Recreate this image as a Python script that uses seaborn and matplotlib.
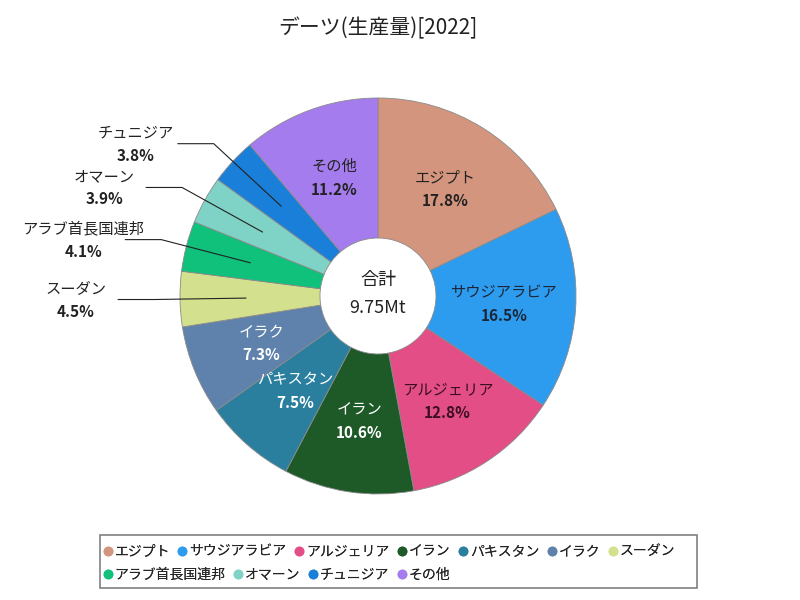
import numpy as np
import matplotlib
matplotlib.use("Agg")
import matplotlib.pyplot as plt
import seaborn as sns
from matplotlib.lines import Line2D
from matplotlib.patches import Rectangle

# データ
countries = ["エジプト", "サウジアラビア", "アルジェリア", "イラン", "パキスタン", "イラク",
             "スーダン", "アラブ首長国連邦", "オマーン", "チュニジア", "その他"]
shares = [17.8, 16.5, 12.8, 10.6, 7.5, 7.3, 4.5, 4.1, 3.9, 3.8, 11.2]
colors = ["#D4957F", "#2D9CEE", "#E24E85", "#1E5A28", "#2A7F9E", "#5F82AD",
          "#D3E08E", "#0FC17B", "#7FD3C6", "#1A7FD8", "#A57CEE"]
text_colors = ["#222222", "#1b2738", "#3a1020", "white", "white", "white",
               "#222222", "#222222", "#222222", "#222222", "#222222"]
outside = [False, False, False, False, False, False, True, True, True, True, False]
total_label = "9.75Mt"
title = "デーツ(生産量)[2022]"

sns.set_theme(style="white")
plt.rcParams["font.family"] = ["Noto Sans CJK JP", "DejaVu Sans"]

fig = plt.figure(figsize=(8, 6), dpi=100)
# 円の中心 (378, 296) px, 半径 ~198 px
ax = fig.add_axes([(378 - 200) / 800, 1 - (296 + 200) / 600, 400 / 800, 400 / 600])

palette = sns.color_palette(colors)
wedges, _ = ax.pie(shares, colors=palette, startangle=90, counterclock=False,
                   radius=0.99, wedgeprops=dict(width=0.99 - 0.29, edgecolor="#8a8a8a",
                                                linewidth=0.6))
ax.set_xlim(-1, 1)
ax.set_ylim(-1, 1)
ax.set_aspect("equal")
ax.axis("off")

for w, name, val, tc, out in zip(wedges, countries, shares, text_colors, outside):
    mid = np.deg2rad((w.theta1 + w.theta2) / 2)
    c, s = np.cos(mid), np.sin(mid)
    if not out:
        r = 0.63
        ax.text(r * c, r * s + 0.055, name, ha="center", va="center",
                fontsize=11, color=tc)
        ax.text(r * c, r * s - 0.06, f"{val}%", ha="center", va="center",
                fontsize=11, color=tc, fontweight="bold")
    else:
        x0, y0 = 0.66 * c, 0.66 * s
        x1, y1 = 1.12 * c, 1.12 * s
        x2 = x1 - 0.18
        ax.plot([x0, x1, x2], [y0, y1, y1], color="#222222", lw=0.8, clip_on=False)
        ax.text(x2 - 0.21, y1 + 0.055, name, ha="center", va="center",
                fontsize=11, color="#222222", clip_on=False)
        ax.text(x2 - 0.21, y1 - 0.06, f"{val}%", ha="center", va="center",
                fontsize=11, color="#222222", fontweight="bold", clip_on=False)

ax.text(0, 0.08, "合計", ha="center", va="center", fontsize=13, color="#222222")
ax.text(0, -0.06, total_label, ha="center", va="center", fontsize=13, color="#222222")

fig.text(378 / 800, 1 - 28 / 600, title, ha="center", va="center", fontsize=15,
         color="#222222")

# 凡例 (2行、行ごとに左詰め)
handles = [Line2D([0], [0], marker="o", linestyle="", markersize=6,
                  markerfacecolor=c, markeredgecolor=c) for c in colors]
rows = [range(0, 7), range(7, 11)]
ys = [1 - 543 / 600, 1 - 566 / 600]
for rr, yy in zip(rows, ys):
    leg = fig.legend([handles[i] for i in rr], [countries[i] for i in rr],
                     loc="upper left", bbox_to_anchor=(102 / 800, yy), ncol=len(rr),
                     frameon=False, fontsize=10, handlelength=0.6, handletextpad=0.2,
                     columnspacing=0.6, borderaxespad=0, borderpad=0.1)
    fig.add_artist(leg)
fig.patches.append(Rectangle((100 / 800, 1 - 588 / 600), 597 / 800, 53 / 600,
                             transform=fig.transFigure, fill=False,
                             edgecolor="#808080", linewidth=1.2))

fig.savefig("out.png", dpi=100)
